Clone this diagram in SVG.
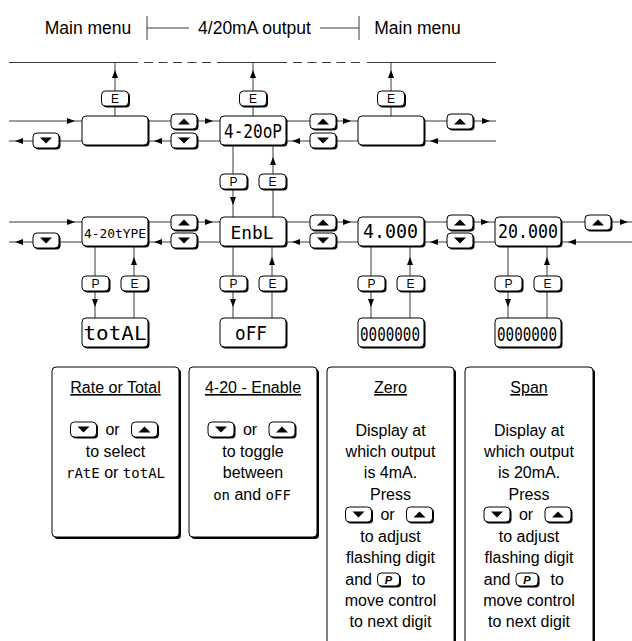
<svg xmlns="http://www.w3.org/2000/svg" width="632" height="641" viewBox="0 0 632 641">
<defs>
<style>
.ln{stroke:#3a3a3a;stroke-width:1;fill:none}
.da{stroke-dasharray:9 5.5}
.arr{marker-end:url(#ah)}
.sh{fill:#000}
.bx{fill:#fff;stroke:#000;stroke-width:1}
.tri{fill:#000}
.kt{font-family:"Liberation Sans",Arial,Helvetica,sans-serif;font-size:12px;text-anchor:middle;fill:#000}
.tx{font-family:"Liberation Sans",Arial,Helvetica,sans-serif;font-size:16px;text-anchor:middle;fill:#000}
.hd{font-size:17.5px}
.ul{text-decoration:underline}
.sg{font-family:"DejaVu Sans Mono","Liberation Mono",monospace;font-size:14px}
.dp{font-family:"DejaVu Sans Mono","Liberation Mono",monospace;text-anchor:middle;fill:#000}
.pk{font-family:"Liberation Sans",Arial,sans-serif;font-size:11px;font-weight:bold;font-style:italic;text-anchor:middle;fill:#000}
</style>
<marker id="ah" viewBox="0 0 8 6" refX="8" refY="3" markerWidth="8" markerHeight="6" orient="auto" markerUnits="userSpaceOnUse"><path d="M0,0L8,3L0,6z" fill="#000"/></marker>
<g id="kUp"><rect x="1.5" y="1.5" width="26" height="15" rx="4" class="sh"/><rect width="26" height="15" rx="4" class="bx"/><path d="M7,10.5H19L13,4.5z" class="tri"/></g>
<g id="kDn"><rect x="1.5" y="1.5" width="26" height="15" rx="4" class="sh"/><rect width="26" height="15" rx="4" class="bx"/><path d="M7,4.5H19L13,10.5z" class="tri"/></g>
<g id="kFr"><rect x="1.5" y="1.5" width="27" height="15" rx="4" class="sh"/><rect width="27" height="15" rx="4" class="bx"/></g>
<g id="kSm"><rect x="1.5" y="1.5" width="22" height="13" rx="4" class="sh"/><rect width="22" height="13" rx="4" class="bx"/></g>
<g id="dFr"><rect x="1.5" y="1.5" width="66" height="29" rx="4" class="sh"/><rect width="66" height="29" rx="4" class="bx"/></g>
</defs>
<rect width="632" height="641" fill="#fff"/>

<g id="header">
<text class="tx hd" x="88" y="34">Main menu</text>
<path class="ln" d="M147,16V40M147,28H189"/>
<text class="tx hd" x="254.5" y="34">4/20mA output</text>
<path class="ln" d="M320,28H359M359,16V40"/>
<text class="tx hd" x="417.5" y="34">Main menu</text>
</g>

<g id="connectors" class="ln">
<path d="M9,62.5H138M217,62.5H287M367,62.5H496"/>
<path class="da" d="M144,62.5H212M293,62.5H361"/>
<path d="M115,116V106M115,70V62.5M253,116V106M253,70V62.5M391,116V106M391,70V62.5"/>
<path class="arr" d="M115,91V70"/><path class="arr" d="M253,91V70"/><path class="arr" d="M391,91V70"/>
<path d="M75,121H82M148,121H171M213,121H220M286,121H310M351,121H358M424,121H447M490,121H496"/>
<path class="arr" d="M9,121H75"/><path class="arr" d="M197,121H213"/><path class="arr" d="M335,121H351"/><path class="arr" d="M473,121H490"/>
<path d="M430,141H424M358,141H335M292,141H286M220,141H197M154,141H148M82,141H59M15,141H9"/>
<path class="arr" d="M496,141H430"/><path class="arr" d="M310,141H292"/><path class="arr" d="M171,141H154"/><path class="arr" d="M33,141H15"/>
<path d="M233,145V174M233,205V217M273,217V189M273,157V145"/>
<path class="arr" d="M233,189V205"/><path class="arr" d="M273,174V157"/>
<path d="M75,222H82M148,222H171M213,222H220M286,222H310M351,222H358M424,222H447M489,222H495M561,222H585M628,222H632"/>
<path class="arr" d="M9,222H75"/><path class="arr" d="M197,222H213"/><path class="arr" d="M335,222H351"/><path class="arr" d="M473,222H489"/><path class="arr" d="M612,222H628"/>
<path d="M568,242H561M495,242H473M430,242H424M358,242H335M292,242H286M220,242H197M154,242H148M82,242H59M15,242H9"/>
<path class="arr" d="M632,242H568"/><path class="arr" d="M447,242H430"/><path class="arr" d="M310,242H292"/><path class="arr" d="M171,242H154"/><path class="arr" d="M33,242H15"/>
<path d="M95,246V276M95,307V318M134,318V291M134,257V246"/>
<path class="arr" d="M95,291V307"/><path class="arr" d="M134,276V257"/>
<path d="M233,246V276M233,307V318M272,318V291M272,257V246"/>
<path class="arr" d="M233,291V307"/><path class="arr" d="M272,276V257"/>
<path d="M371,246V276M371,307V318M410,318V291M410,257V246"/>
<path class="arr" d="M371,291V307"/><path class="arr" d="M410,276V257"/>
<path d="M508,246V276M508,307V318M547,318V291M547,257V246"/>
<path class="arr" d="M508,291V307"/><path class="arr" d="M547,276V257"/>
</g>

<g id="keyE-top1"><use href="#kFr" x="101.5" y="91"/><text class="kt" x="115" y="103">E</text></g>
<g id="keyE-top2"><use href="#kFr" x="239.5" y="91"/><text class="kt" x="253" y="103">E</text></g>
<g id="keyE-top3"><use href="#kFr" x="377.5" y="91"/><text class="kt" x="391" y="103">E</text></g>

<g id="menu-prev"><use href="#dFr" x="82" y="116"/></g>
<g id="disp-4-20oP"><use href="#dFr" x="220" y="116"/><text class="dp" x="253" y="138" font-size="20" textLength="58" lengthAdjust="spacingAndGlyphs">4-20oP</text></g>
<g id="menu-next"><use href="#dFr" x="358" y="116"/></g>
<g id="keys-row1">
<use href="#kDn" x="33" y="133"/>
<use href="#kUp" x="171" y="114"/><use href="#kDn" x="171" y="133"/>
<use href="#kUp" x="310" y="114"/><use href="#kDn" x="310" y="133"/>
<use href="#kUp" x="447" y="114"/>
</g>
<g id="keys-PE-row1">
<use href="#kFr" x="220" y="174"/><text class="kt" x="233.5" y="186">P</text>
<use href="#kFr" x="259" y="174"/><text class="kt" x="272.5" y="186">E</text>
</g>

<g id="disp-type"><use href="#dFr" x="82" y="217"/><text class="dp" x="115" y="237.5" font-size="11.5" textLength="62" lengthAdjust="spacingAndGlyphs">4-20tYPE</text></g>
<g id="disp-enbl"><use href="#dFr" x="220" y="217"/><text class="dp" x="252" y="239" font-size="18" textLength="43" lengthAdjust="spacingAndGlyphs">EnbL</text></g>
<g id="disp-zero"><use href="#dFr" x="358" y="217"/><text class="dp" x="390.5" y="238" font-size="20" textLength="55" lengthAdjust="spacingAndGlyphs">4.000</text></g>
<g id="disp-span"><use href="#dFr" x="495" y="217"/><text class="dp" x="528" y="238" font-size="20" textLength="60" lengthAdjust="spacingAndGlyphs">20.000</text></g>
<g id="keys-row2">
<use href="#kDn" x="33" y="233"/>
<use href="#kUp" x="171" y="215"/><use href="#kDn" x="171" y="233"/>
<use href="#kUp" x="310" y="215"/><use href="#kDn" x="310" y="233"/>
<use href="#kUp" x="447" y="215"/><use href="#kDn" x="447" y="233"/>
<use href="#kUp" x="585" y="215"/>
</g>
<g id="keys-PE-row2">
<use href="#kFr" x="82" y="276"/><text class="kt" x="95.5" y="288">P</text>
<use href="#kFr" x="121" y="276"/><text class="kt" x="134.5" y="288">E</text>
<use href="#kFr" x="220" y="276"/><text class="kt" x="233.5" y="288">P</text>
<use href="#kFr" x="259" y="276"/><text class="kt" x="272.5" y="288">E</text>
<use href="#kFr" x="358" y="276"/><text class="kt" x="371.5" y="288">P</text>
<use href="#kFr" x="397" y="276"/><text class="kt" x="410.5" y="288">E</text>
<use href="#kFr" x="495" y="276"/><text class="kt" x="508.5" y="288">P</text>
<use href="#kFr" x="534" y="276"/><text class="kt" x="547.5" y="288">E</text>
</g>

<g id="disp-total"><use href="#dFr" x="82" y="318"/><text class="dp" x="115" y="340" font-size="20" textLength="63" lengthAdjust="spacingAndGlyphs">totAL</text></g>
<g id="disp-off"><use href="#dFr" x="220" y="318"/><text class="dp" x="251" y="340" font-size="19" textLength="32" lengthAdjust="spacingAndGlyphs">oFF</text></g>
<g id="disp-digits-zero"><use href="#dFr" x="358" y="318"/><text class="dp" x="390" y="340.5" font-size="19" textLength="60" lengthAdjust="spacingAndGlyphs">0000000</text></g>
<g id="disp-digits-span"><use href="#dFr" x="495" y="318"/><text class="dp" x="527" y="340.5" font-size="19" textLength="60" lengthAdjust="spacingAndGlyphs">0000000</text></g>

<g id="box-rate-total">
<rect x="54" y="369" width="127" height="170" rx="4" class="sh"/>
<rect x="52" y="367" width="127" height="170" rx="4" class="bx"/>
<text class="tx ul" x="115.5" y="393">Rate or Total</text>
<use href="#kDn" x="70.5" y="422"/><text class="tx" x="112.5" y="435">or</text><use href="#kUp" x="131.5" y="422"/>
<text class="tx" x="115.5" y="457">to select</text>
<text class="tx" x="115.5" y="478"><tspan class="sg">rAtE</tspan> or <tspan class="sg">totAL</tspan></text>
</g>
<g id="box-enable">
<rect x="191" y="369" width="128" height="170" rx="4" class="sh"/>
<rect x="189" y="367" width="128" height="170" rx="4" class="bx"/>
<text class="tx ul" x="253" y="393">4-20 - Enable</text>
<use href="#kDn" x="208" y="422"/><text class="tx" x="250" y="435">or</text><use href="#kUp" x="269" y="422"/>
<text class="tx" x="253" y="457">to toggle</text>
<text class="tx" x="253" y="478">between</text>
<text class="tx" x="252" y="499.5"><tspan class="sg">on</tspan> and <tspan class="sg">oFF</tspan></text>
</g>
<g id="box-zero">
<rect x="329" y="369" width="127" height="290" rx="4" class="sh"/>
<rect x="327" y="367" width="127" height="290" rx="4" class="bx"/>
<text class="tx ul" x="390.5" y="393">Zero</text>
<text class="tx" x="390.5" y="435.6">Display at</text>
<text class="tx" x="390.5" y="457">which output</text>
<text class="tx" x="390.5" y="478">is 4mA.</text>
<text class="tx" x="390.5" y="499.5">Press</text>
<use href="#kDn" x="345.5" y="507"/><text class="tx" x="387.5" y="520">or</text><use href="#kUp" x="406.5" y="507"/>
<text class="tx" x="390.5" y="542">to adjust</text>
<text class="tx" x="390.5" y="563">flashing digit</text>
<text class="tx" x="372" y="584.5" style="text-anchor:end">and</text><use href="#kSm" x="377.5" y="573"/><text class="pk" x="388.5" y="583.5">P</text><text class="tx" x="412" y="584.5" style="text-anchor:start">to</text>
<text class="tx" x="390.5" y="606">move control</text>
<text class="tx" x="390.5" y="627">to next digit</text>
</g>
<g id="box-span">
<rect x="467" y="369" width="128" height="290" rx="4" class="sh"/>
<rect x="465" y="367" width="128" height="290" rx="4" class="bx"/>
<text class="tx ul" x="529" y="393">Span</text>
<text class="tx" x="529" y="435.6">Display at</text>
<text class="tx" x="529" y="457">which output</text>
<text class="tx" x="529" y="478">is 20mA.</text>
<text class="tx" x="529" y="499.5">Press</text>
<use href="#kDn" x="484" y="507"/><text class="tx" x="526" y="520">or</text><use href="#kUp" x="545" y="507"/>
<text class="tx" x="529" y="542">to adjust</text>
<text class="tx" x="529" y="563">flashing digit</text>
<text class="tx" x="510.5" y="584.5" style="text-anchor:end">and</text><use href="#kSm" x="516" y="573"/><text class="pk" x="527" y="583.5">P</text><text class="tx" x="550.5" y="584.5" style="text-anchor:start">to</text>
<text class="tx" x="529" y="606">move control</text>
<text class="tx" x="529" y="627">to next digit</text>
</g>
</svg>
